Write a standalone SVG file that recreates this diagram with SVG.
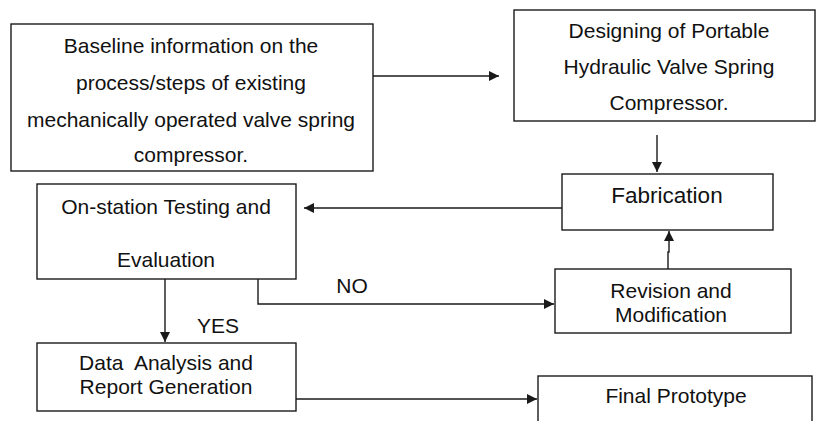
<svg xmlns="http://www.w3.org/2000/svg" width="816" height="421" viewBox="0 0 816 421">
<style>
.box{fill:#fff;stroke:#1a1a1a;stroke-width:1.4}
.t{font-family:"Liberation Sans",Arial,sans-serif;font-size:21px;fill:#111;text-anchor:middle}
.c{fill:none;stroke:#1a1a1a;stroke-width:1.4}
</style>
<defs>
<marker id="ah" viewBox="0 0 10 10" refX="10" refY="5" markerWidth="10" markerHeight="10" markerUnits="userSpaceOnUse" orient="auto">
<path d="M0,0 L10,5 L0,10 z" fill="#1a1a1a"/>
</marker>
</defs>
<rect width="816" height="421" fill="#fff"/>
<g id="connectors">
<path class="c" d="M373,76 H499" marker-end="url(#ah)"/>
<path class="c" d="M657,135 V172" marker-end="url(#ah)"/>
<path class="c" d="M562,208 H304" marker-end="url(#ah)"/>
<path class="c" d="M668,269 V252 H669 V231" marker-end="url(#ah)"/>
<path class="c" d="M165,279 V342" marker-end="url(#ah)"/>
<path class="c" d="M258,279 V304 H554" marker-end="url(#ah)"/>
<path class="c" d="M296,399 H537" marker-end="url(#ah)"/>
<text class="t" x="352" y="293">NO</text>
<text class="t" x="218" y="333">YES</text>
</g>
<g id="baseline">
<rect class="box" x="11" y="24" width="362" height="147"/>
<text class="t" x="191" y="53">Baseline information on the</text>
<text class="t" x="191" y="90">process/steps of existing</text>
<text class="t" x="191" y="127">mechanically operated valve spring</text>
<text class="t" x="191" y="162">compressor.</text>
</g>
<g id="designing">
<rect class="box" x="514" y="10" width="301" height="111"/>
<text class="t" x="669" y="38">Designing of Portable</text>
<text class="t" x="669" y="74">Hydraulic Valve Spring</text>
<text class="t" x="669" y="110">Compressor.</text>
</g>
<g id="fabrication">
<rect class="box" x="562" y="174" width="211" height="56"/>
<text class="t" x="667" y="203" style="font-size:22.5px">Fabrication</text>
</g>
<g id="testing">
<rect class="box" x="37" y="184" width="259" height="95"/>
<text class="t" x="166" y="214">On-station Testing and</text>
<text class="t" x="166" y="267">Evaluation</text>
</g>
<g id="revision">
<rect class="box" x="555" y="269" width="236" height="64"/>
<text class="t" x="671" y="298">Revision and</text>
<text class="t" x="671" y="322">Modification</text>
</g>
<g id="data">
<rect class="box" x="37" y="343" width="259" height="68"/>
<text class="t" x="166" y="370" xml:space="preserve">Data  Analysis and</text>
<text class="t" x="166" y="394">Report Generation</text>
</g>
<g id="final">
<rect class="box" x="538" y="376" width="274" height="60"/>
<text class="t" x="676" y="403">Final Prototype</text>
</g>
</svg>
